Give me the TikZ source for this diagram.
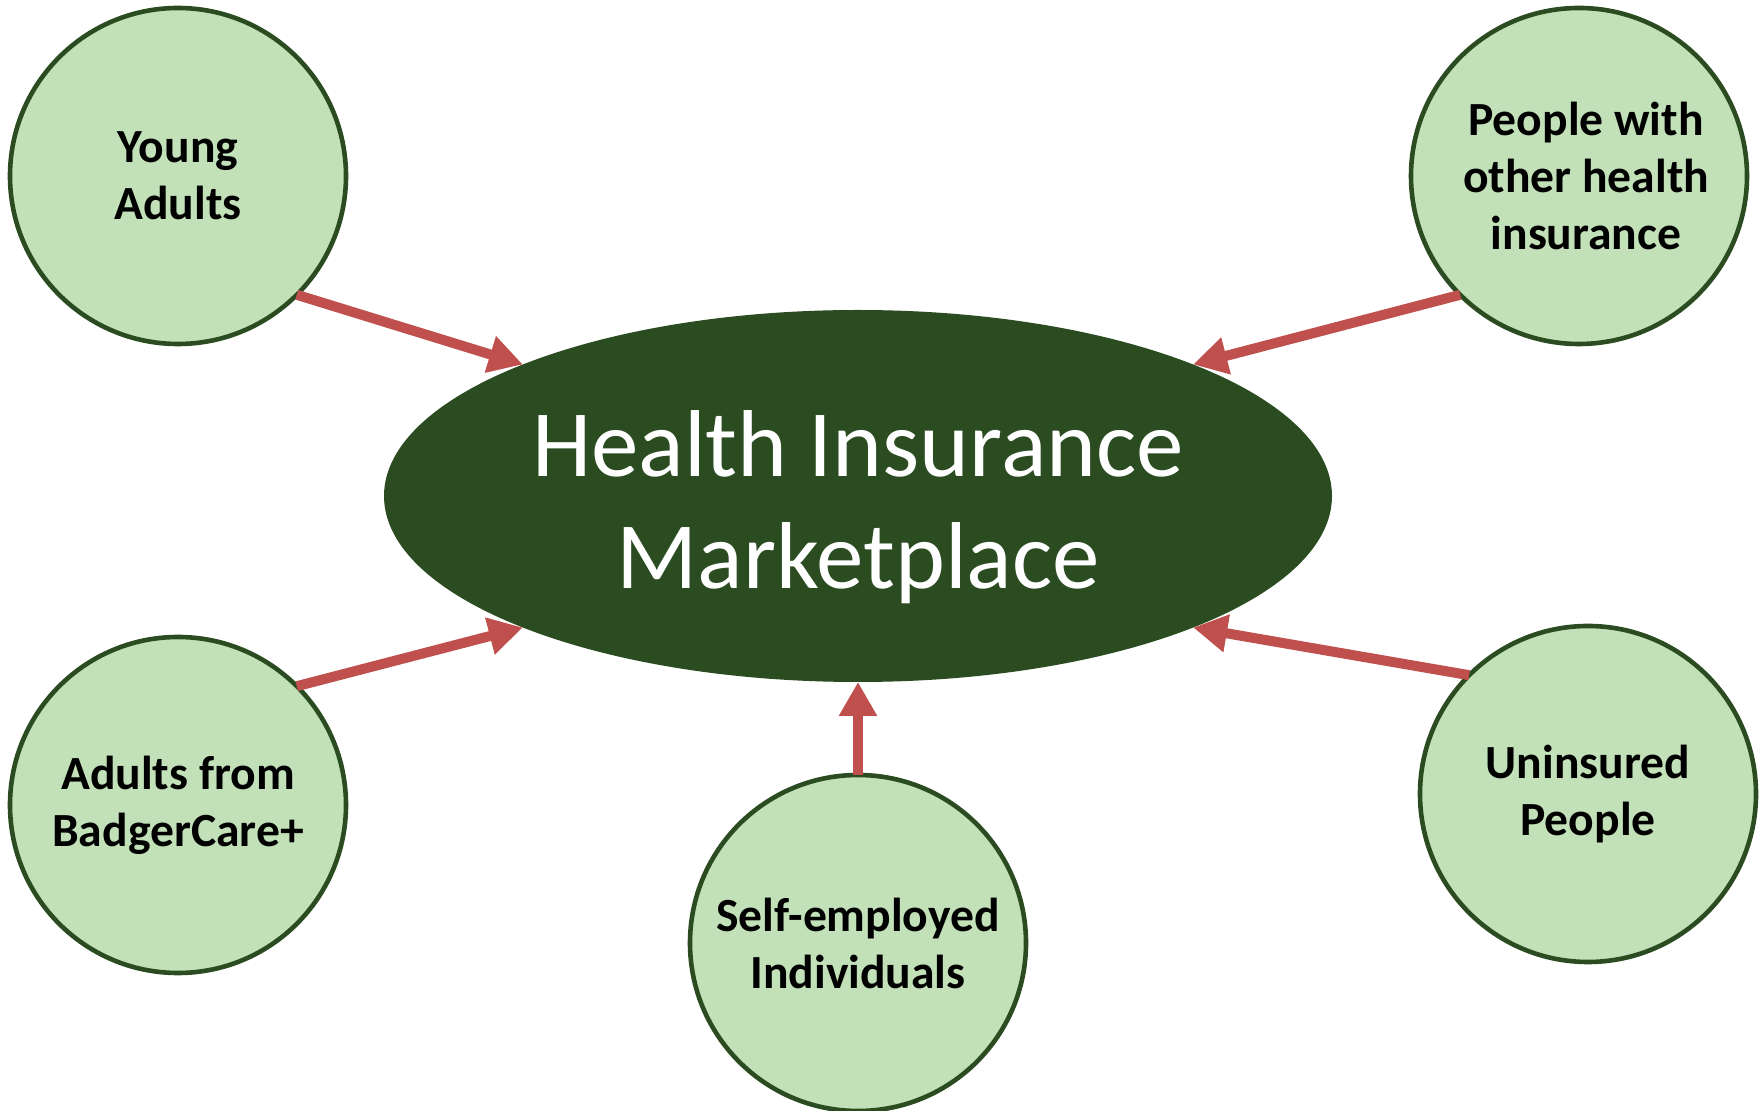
\documentclass[tikz,border=0pt]{standalone}
\usepackage{fontspec}
\setmainfont{Carlito}
\usetikzlibrary{arrows.meta,shapes.geometric}
\definecolor{hubgreen}{HTML}{2B4B21}
\definecolor{leaffill}{HTML}{C2E1B8}
\definecolor{leafline}{HTML}{2B4B21}
\definecolor{arrowred}{HTML}{C0504D}

\begin{document}
\begin{tikzpicture}[x=0.5pt,y=-0.5pt,
  hub/.style={ellipse, fill=hubgreen, minimum width=474pt, minimum height=186pt,
    inner sep=0pt, outer sep=0pt},
  hubtext/.style={text=white, align=center, inner sep=0pt,
    font=\fontsize{47.5}{56}\selectfont},
  group/.style={circle, draw=leafline, line width=2.3pt, fill=leaffill,
    minimum size=168pt, inner sep=0pt, outer sep=0pt, align=center,
    font=\bfseries\fontsize{23.8}{28.5}\selectfont},
  feed/.style={draw=arrowred, line width=5pt,
    -{Triangle[length=17pt,width=18pt]}}]

  \useasboundingbox[fill=white] (0,0) rectangle (1763,1111);

  % central marketplace, its title set a little below the centre
  \node[hub, label={[hubtext, yshift=-5.5pt]center:Health Insurance\\Marketplace}]
    (market) at (858,496) {};

  % groups feeding into it
  \node[group] (young)  at (178,176)  {Young\\Adults};
  \node[group] (other)  at (1579,176) {\hspace*{7pt}People with\\\hspace*{7pt}other health\\\hspace*{7pt}insurance};
  \node[group] (badger) at (178,805)  {Adults from\\BadgerCare+};
  \node[group] (self)   at (858,943)  {Self-employed\\Individuals};
  \node[group] (unins)  at (1588,794) {Uninsured\\People};

  % connectors
  \draw[feed] (young.south east)  -- (market.north west);
  \draw[feed] (other.south west)  -- (market.north east);
  \draw[feed] (badger.north east) -- (market.south west);
  \draw[feed] (self.north)        -- (market.south);
  \draw[feed] (unins.north west)  -- (market.south east);
\end{tikzpicture}
\end{document}
